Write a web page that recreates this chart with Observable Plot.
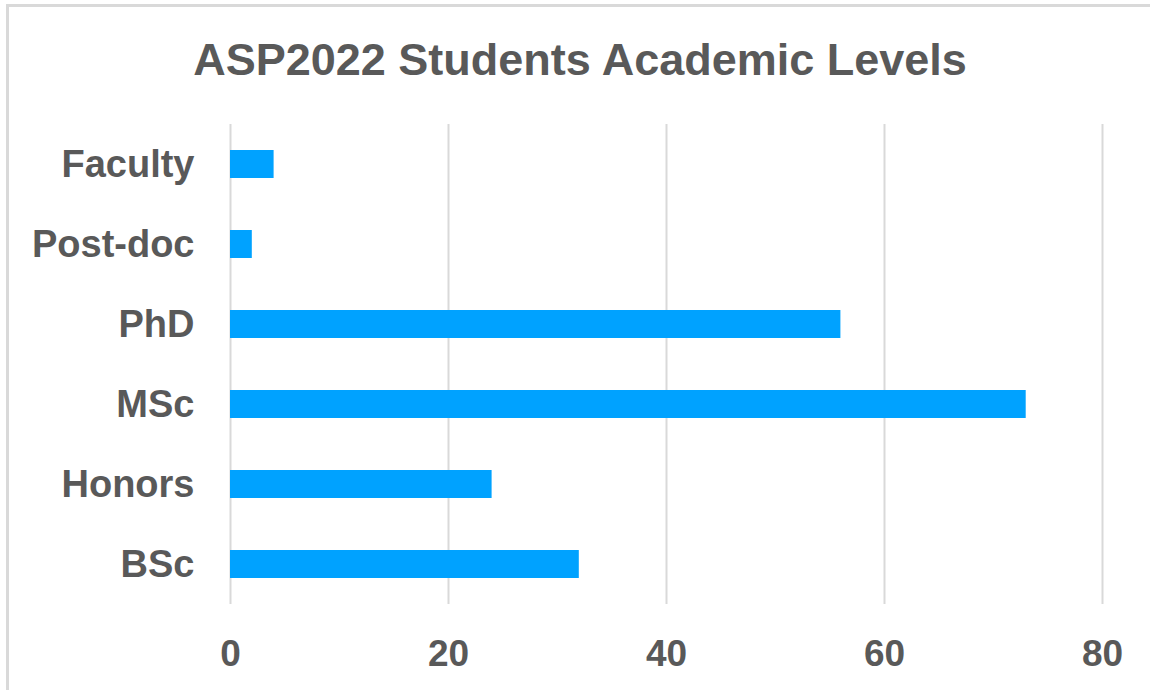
<!DOCTYPE html>
<html>
<head>
<meta charset="utf-8">
<script src="https://cdn.jsdelivr.net/npm/d3@7"></script>
<script src="https://cdn.jsdelivr.net/npm/@observablehq/plot@0.6"></script>
<style>
  html, body { margin: 0; padding: 0; background: #fff; }
  #wrap { position: relative; width: 1150px; height: 690px; overflow: hidden; font-family: "Liberation Sans", Arial, Helvetica, sans-serif; }
  #bt { position: absolute; left: 6px; top: 4px; width: 1144px; height: 3px; background: #d9d9d9; }
  #bl { position: absolute; left: 6px; top: 4px; width: 3px; height: 686px; background: #d9d9d9; }
  #title { box-sizing: border-box; height: 110px; padding-top: 35px; padding-left: 10px; line-height: 50px; text-align: center; font-size: 45px; font-weight: bold; color: #595959; white-space: nowrap; }
  #chart svg { display: block; }
</style>
</head>
<body>
<div id="wrap">
  <div id="bt"></div>
  <div id="bl"></div>
  <div id="title">ASP2022 Students Academic Levels</div>
  <div id="chart"></div>
</div>
<script>
const categories = ["Faculty", "Post-doc", "PhD", "MSc", "Honors", "BSc"];
const counts = [4, 2, 56, 73, 24, 32];
const xTicks = [0, 20, 40, 60, 80];

const data = categories.map((c, i) => ({level: c, count: counts[i]}));

const chart = Plot.plot({
  width: 1150,
  height: 580,
  marginTop: 14,
  marginBottom: 86,
  marginLeft: 230,
  marginRight: 48,
  style: {
    fontFamily: '"Liberation Sans", Arial, Helvetica, sans-serif',
    fontSize: "36px",
    fontWeight: "bold",
    color: "#595959",
    background: "transparent"
  },
  x: {domain: [0, 80], ticks: xTicks},
  y: {domain: categories, paddingInner: 0.65, paddingOuter: 0.325},
  marks: [
    Plot.gridX(xTicks, {stroke: "#d9d9d9", strokeWidth: 2, strokeOpacity: 1}),
    Plot.barX(data, {x: "count", y: "level", fill: "#00a2ff"}),
    Plot.axisX({ticks: xTicks, tickSize: 0, tickPadding: 35, label: null, fontSize: 37}),
    Plot.axisY({tickSize: 0, tickPadding: 36, label: null, fontSize: 38})
  ]
});
document.getElementById("chart").appendChild(chart);
</script>
</body>
</html>
